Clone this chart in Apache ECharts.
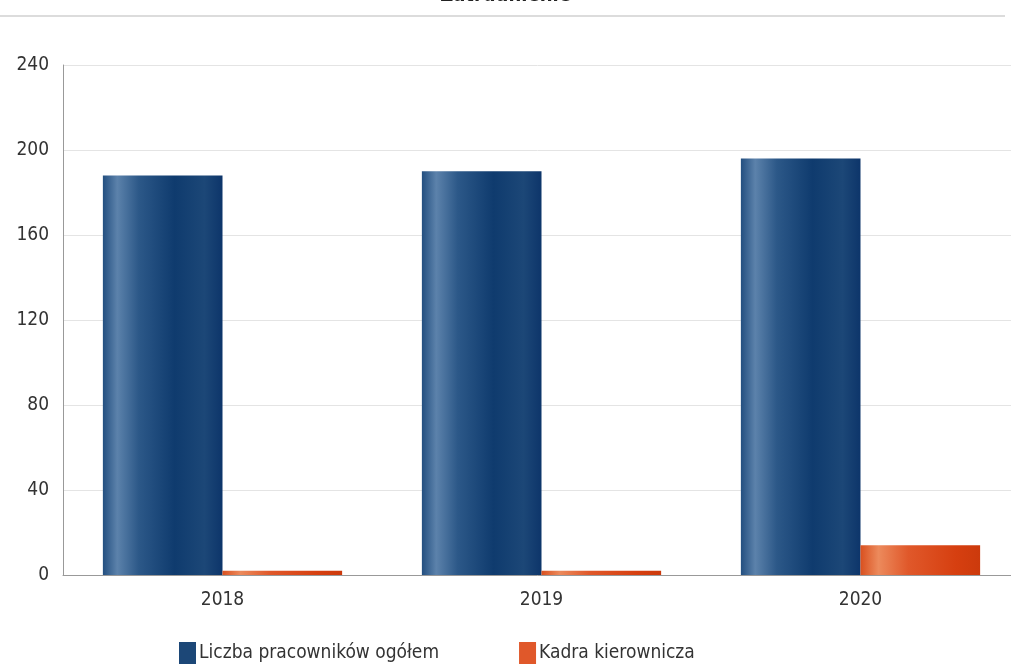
<!DOCTYPE html>
<html><head><meta charset="utf-8">
<script src="https://cdn.jsdelivr.net/npm/echarts@6/dist/echarts.min.js"></script>
<style>html,body{margin:0;padding:0;background:#fff}#c{width:1011px;height:669px}</style>
</head><body><div id="c"></div>
<script>
const categories = ['2018', '2019', '2020'];
const totalEmployees = [188, 190, 196];
const management = [2, 2, 14];
const yTicks = [0, 40, 80, 120, 160, 200, 240];
const titleText = 'Zatrudnienie';
const seriesNames = ['Liczba pracowników ogółem', 'Kadra kierownicza'];

const font = '"DejaVu Sans Condensed", "Liberation Sans Narrow", "Liberation Sans", sans-serif';
const blueGrad = new echarts.graphic.LinearGradient(0,0,1,0,[
  {offset:0, color:'#234f80'},{offset:0.12, color:'#5c82ab'},{offset:0.3, color:'#2c5888'},
  {offset:0.6, color:'#0f3b6e'},{offset:0.85, color:'#1c4777'},{offset:1, color:'#0d356a'}]);
const redGrad = new echarts.graphic.LinearGradient(0,0,1,0,[
  {offset:0, color:'#d9501f'},{offset:0.15, color:'#ec8a5c'},{offset:0.4, color:'#e0582a'},
  {offset:0.8, color:'#d63f10'},{offset:1, color:'#cc3a0c'}]);

const chart = echarts.init(document.getElementById('c'));
chart.setOption({
  animation:false,
  title:{text:titleText, left:'center', top:-19, textStyle:{fontFamily:font, fontSize:20, fontWeight:'bold', color:'#222'}},
  graphic:[{type:'line', shape:{x1:0,y1:16,x2:1005,y2:16}, style:{stroke:'#dcdcdc', lineWidth:2}}],
  legend:{bottom:0, left:174, itemGap:80, itemWidth:17, itemHeight:22, icon:'rect',
    textStyle:{fontFamily:font, fontSize:19, color:'#333', padding:[0,0,0,-2]},
    data:[{name:seriesNames[0], itemStyle:{color:'#1c4777'}},{name:seriesNames[1], itemStyle:{color:'#e0582a'}}]},
  grid:{left:63, width:957, top:65, bottom:94, containLabel:false, outerBoundsMode:'none'},
  xAxis:{type:'category', data:categories,
    axisLine:{lineStyle:{color:'#999'}}, axisTick:{show:false},
    axisLabel:{fontFamily:font, fontSize:19, color:'#333', margin:16}},
  yAxis:{type:'value', min:0, max:240, interval:40,
    axisLine:{show:true, lineStyle:{color:'#999'}}, axisTick:{show:false},
    splitLine:{lineStyle:{color:'#e4e4e4'}},
    axisLabel:{fontFamily:font, fontSize:19, color:'#333', margin:14,
      formatter:v=>yTicks.includes(v)?String(v):''}},
  series:[
    {name:seriesNames[0], type:'bar', data:totalEmployees, barGap:'0%', barCategoryGap:'25%', itemStyle:{color:blueGrad}},
    {name:seriesNames[1], type:'bar', data:management, itemStyle:{color:redGrad}}
  ]
});
</script></body></html>
